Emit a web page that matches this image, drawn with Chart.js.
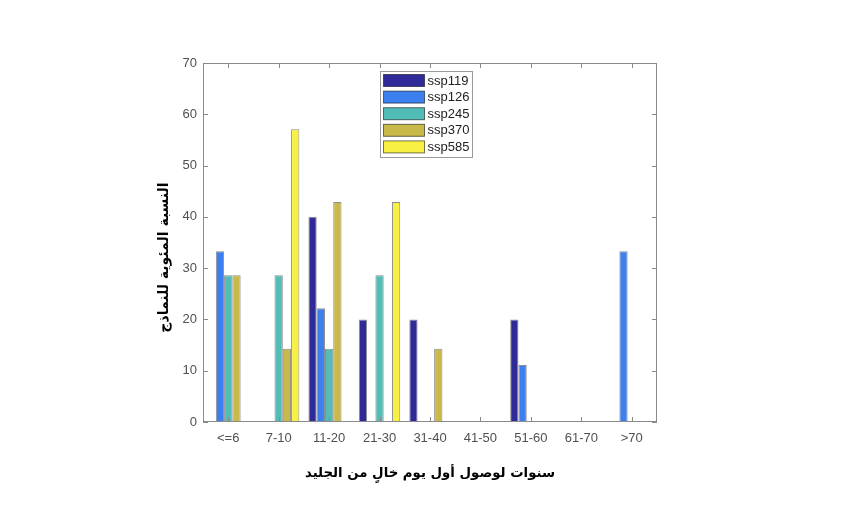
<!DOCTYPE html>
<html lang="ar">
<head>
    <meta charset="UTF-8">
    <title>ssp bar chart</title>
    <script src="https://cdn.jsdelivr.net/npm/chart.js"></script>
    <style>
        body { margin: 0; background: #fff; }
        #wrap { width: 850px; height: 526px; }
    </style>
</head>
<body>
    <div id="wrap"><canvas id="sspChart" width="850" height="526"></canvas></div>

    <script>
        const categories = ['<=6', '7-10', '11-20', '21-30', '31-40', '41-50', '51-60', '61-70', '>70'];
        const seriesNames = ['ssp119', 'ssp126', 'ssp245', 'ssp370', 'ssp585'];
        const ssp119 = [0, 0, 40, 20, 20, 0, 20, 0, 0];
        const ssp126 = [33.3, 0, 22.2, 0, 0, 0, 11.1, 0, 33.3];
        const ssp245 = [28.6, 28.6, 14.3, 28.6, 0, 0, 0, 0, 0];
        const ssp370 = [28.6, 14.3, 42.9, 0, 14.3, 0, 0, 0, 0];
        const ssp585 = [0, 57.1, 0, 42.9, 0, 0, 0, 0, 0];
        const seriesColors = ['#2f2a98', '#3b80ee', '#52bcb6', '#c8b94a', '#f8f144'];
        const xTitle = 'سنوات لوصول أول يوم خالٍ من الجليد';
        const yTitle = 'النسبة المئوية للنماذج';

        const axisColor = '#8a8a8a';
        const textColor = '#505050';
        const arabicFont = '"DejaVu Sans", sans-serif';

        // box round the plot with inward tick marks on all four sides
        const frame = {
            id: 'frame',
            afterDatasetsDraw(chart) {
                const {ctx, chartArea: a, scales: {x, y}} = chart;
                ctx.save();
                ctx.strokeStyle = axisColor;
                ctx.lineWidth = 1;
                ctx.strokeRect(a.left + 0.5, a.top + 0.5, a.right - a.left - 1, a.bottom - a.top - 1);
                ctx.beginPath();
                y.ticks.forEach(t => {
                    const py = Math.round(y.getPixelForValue(t.value)) + 0.5;
                    ctx.moveTo(a.left, py); ctx.lineTo(a.left + 5, py);
                    ctx.moveTo(a.right, py); ctx.lineTo(a.right - 5, py);
                });
                x.ticks.forEach((t, i) => {
                    const px = Math.round(x.getPixelForTick(i)) + 0.5;
                    ctx.moveTo(px, a.top); ctx.lineTo(px, a.top + 5);
                    ctx.moveTo(px, a.bottom); ctx.lineTo(px, a.bottom - 5);
                });
                ctx.stroke();

                // y title, a little below the middle of the axis like the original
                ctx.translate(a.left - 39, (a.top + a.bottom) / 2 + 15);
                ctx.rotate(-Math.PI / 2);
                ctx.fillStyle = '#000';
                ctx.font = 'bold 14px ' + arabicFont;
                ctx.textAlign = 'center';
                ctx.textBaseline = 'middle';
                ctx.fillText(yTitle, 0, 0);
                ctx.restore();
            }
        };

        // legend box inside the plot, near the top
        const boxLegend = {
            id: 'boxLegend',
            afterDraw(chart) {
                const {ctx} = chart;
                const left = 380, top = 71, w = 92, rowH = 16.6;
                const h = rowH * chart.data.datasets.length + 3;
                ctx.save();
                ctx.fillStyle = '#fff';
                ctx.fillRect(left, top, w, h);
                ctx.strokeStyle = '#9a9a9a';
                ctx.lineWidth = 1;
                ctx.strokeRect(left + 0.5, top + 0.5, w, h);
                ctx.font = '13px "Liberation Sans", Arial, sans-serif';
                ctx.textBaseline = 'middle';
                chart.data.datasets.forEach((ds, i) => {
                    const cy = top + 9.5 + i * rowH;
                    ctx.fillStyle = ds.backgroundColor;
                    ctx.fillRect(383.5, cy - 6, 41, 12);
                    ctx.strokeStyle = 'rgba(0,0,0,0.55)';
                    ctx.strokeRect(383.5, cy - 6, 41, 12);
                    ctx.fillStyle = '#222';
                    ctx.fillText(ds.label, 427.5, cy + 0.5);
                });
                ctx.restore();
            }
        };

        const seriesValues = [ssp119, ssp126, ssp245, ssp370, ssp585];

        const ctx = document.getElementById('sspChart').getContext('2d');
        new Chart(ctx, {
            type: 'bar',
            data: {
                labels: categories,
                datasets: seriesNames.map((name, i) => ({
                    label: name,
                    data: seriesValues[i],
                    backgroundColor: seriesColors[i],
                    borderColor: 'rgba(0,0,0,0.45)',
                    borderWidth: 1,
                    barPercentage: 1,
                    categoryPercentage: 0.82
                }))
            },
            options: {
                responsive: false,
                animation: false,
                layout: {
                    padding: {left: 163, right: 193, top: 63, bottom: 36}
                },
                plugins: {
                    legend: {display: false},
                    tooltip: {enabled: false}
                },
                scales: {
                    x: {
                        grid: {display: false, drawTicks: false},
                        border: {display: false},
                        ticks: {
                            color: textColor,
                            padding: 9,
                            maxRotation: 0,
                            autoSkip: false,
                            font: {family: '"Liberation Sans", Arial, sans-serif', size: 13}
                        },
                        title: {
                            display: true,
                            text: xTitle,
                            color: '#000',
                            padding: {top: 4, bottom: 8},
                            font: {family: arabicFont, size: 13.3, weight: 'bold'}
                        },
                        afterFit(scale) { scale.height = 68; }
                    },
                    y: {
                        min: 0,
                        max: 70,
                        grid: {display: false, drawTicks: false},
                        border: {display: false},
                        ticks: {
                            stepSize: 10,
                            color: textColor,
                            padding: 6,
                            font: {family: '"Liberation Sans", Arial, sans-serif', size: 13}
                        },
                        afterFit(scale) { scale.width = 40; }
                    }
                }
            },
            plugins: [frame, boxLegend]
        });
    </script>
</body>
</html>
